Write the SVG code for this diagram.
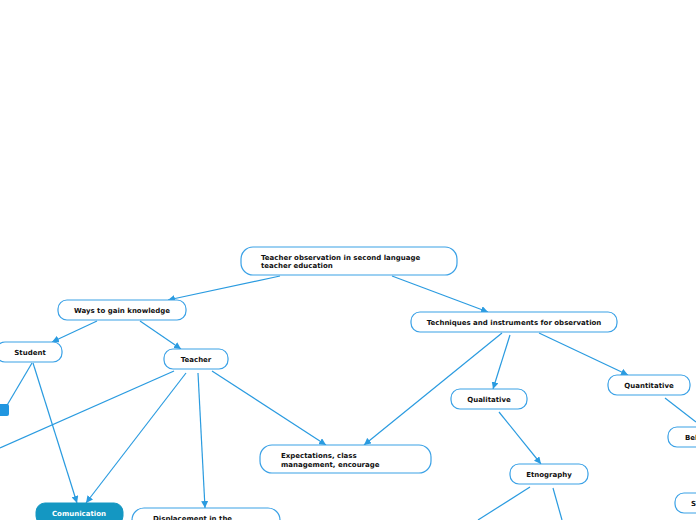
<svg xmlns="http://www.w3.org/2000/svg" width="696" height="520" viewBox="0 0 696 520">
<defs>
<marker id="ah" viewBox="0 0 10 10" refX="10" refY="5" markerWidth="7" markerHeight="7" orient="auto" markerUnits="userSpaceOnUse">
<path d="M0,0 L10,5 L0,10 z" fill="#2a9be0"/>
</marker>
<style>
.n{fill:#ffffff;stroke:#3aa1e6;stroke-width:1.2}
.t{font-family:"DejaVu Sans",Verdana,sans-serif;font-size:7px;font-weight:bold;fill:#111}
.c{text-anchor:middle}
.e{fill:none;stroke:#2a9be0;stroke-width:1.2}
.a{marker-end:url(#ah)}
</style>
</defs>
<rect width="696" height="520" fill="#ffffff"/>
<g id="connectors">
<line class="e a" x1="280" y1="276" x2="168" y2="300"/>
<line class="e a" x1="392" y1="276" x2="488" y2="312"/>
<line class="e a" x1="97" y1="321" x2="52" y2="342"/>
<line class="e a" x1="140" y1="321" x2="181" y2="349"/>
<line class="e" x1="32" y1="363" x2="6" y2="407"/>
<line class="e a" x1="33" y1="363" x2="77" y2="503"/>
<line class="e" x1="174" y1="371" x2="0" y2="448"/>
<line class="e a" x1="186" y1="373" x2="86" y2="503"/>
<line class="e a" x1="198" y1="373" x2="205" y2="508"/>
<line class="e a" x1="212" y1="371" x2="326" y2="445"/>
<line class="e a" x1="502" y1="333" x2="364" y2="445"/>
<line class="e a" x1="510" y1="335" x2="493" y2="389"/>
<line class="e a" x1="539" y1="333" x2="628" y2="375"/>
<line class="e" x1="665" y1="398" x2="696" y2="422"/>
<line class="e a" x1="499" y1="412" x2="541" y2="464"/>
<line class="e" x1="530" y1="487" x2="478" y2="520"/>
<line class="e" x1="553" y1="488" x2="562" y2="520"/>
</g>
<g id="root">
<rect class="n" x="241" y="247" width="216" height="28" rx="12"/>
<text class="t" x="261" y="260">Teacher observation in second language</text>
<text class="t" x="261" y="268">teacher education</text>
</g>
<g id="ways">
<rect class="n" x="58" y="300" width="128" height="20" rx="9"/>
<text class="t c" x="122" y="313">Ways to gain knowledge</text>
</g>
<g id="student">
<rect class="n" x="-4" y="342" width="66" height="20" rx="9"/>
<text class="t c" x="30" y="355">Student</text>
</g>
<g id="smallbox">
<rect x="-6" y="404" width="15" height="12" rx="2" fill="#2196e0"/>
</g>
<g id="teacher">
<rect class="n" x="164" y="349" width="64" height="20" rx="9"/>
<text class="t c" x="196" y="362">Teacher</text>
</g>
<g id="techniques">
<rect class="n" x="411" y="312" width="206" height="20" rx="9"/>
<text class="t c" x="514" y="325">Techniques and instruments for observation</text>
</g>
<g id="quantitative">
<rect class="n" x="608" y="375" width="82" height="20" rx="9"/>
<text class="t c" x="649" y="388">Quantitative</text>
</g>
<g id="qualitative">
<rect class="n" x="451" y="389" width="76" height="20" rx="9"/>
<text class="t c" x="489" y="402">Qualitative</text>
</g>
<g id="expectations">
<rect class="n" x="260" y="445" width="171" height="28" rx="12"/>
<text class="t" x="281" y="458">Expectations, class</text>
<text class="t" x="281" y="467">management, encourage</text>
</g>
<g id="etnography">
<rect class="n" x="510" y="464" width="78" height="20" rx="9"/>
<text class="t c" x="549" y="477">Etnography</text>
</g>
<g id="behavior">
<rect class="n" x="668" y="427" width="60" height="20" rx="9"/>
<text class="t" x="685" y="440">Behavior</text>
</g>
<g id="s-node">
<rect class="n" x="675" y="493" width="60" height="20" rx="9"/>
<text class="t" x="691" y="506">S</text>
</g>
<g id="comunication">
<rect x="36" y="503" width="87" height="22" rx="9" fill="#1497c2" stroke="#1497c2"/>
<text class="t c" x="79" y="516" fill="#ffffff" style="fill:#ffffff">Comunication</text>
</g>
<g id="displacement">
<rect class="n" x="132" y="508" width="148" height="30" rx="12"/>
<text class="t" x="153" y="521">Displacement in the</text>
</g>
</svg>
